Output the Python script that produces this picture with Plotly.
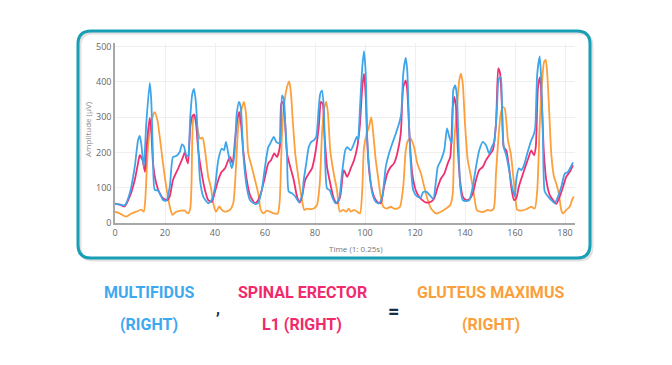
import plotly.graph_objects as go

# ---------------- data ----------------
mf_t = [0, 2, 3.9, 5.9, 7.9, 9.2, 9.9, 10.5, 11.5, 12.5, 13.9, 14.5, 15.2, 15.9, 17.2, 18.5, 19.2, 20.5, 21.9, 23.2,
        24.5, 25.9, 26.8, 27.6, 28.5, 29.2, 30.1, 30.9, 31.6, 32.4, 33.3, 34, 35.3, 37.3, 38.7, 40, 41.3, 42.7, 43.6,
        44.4, 45.3, 46.7, 47.7, 48.7, 49.6, 50.3, 51.3, 52.7, 54, 56, 57.3, 58.7, 60, 61.3, 62.1, 63.5, 64.5, 65.9,
        66.8, 67.5, 68.1, 68.8, 69.5, 70.8, 72.1, 73.5, 74.8, 75.5, 76.5, 77.5, 78.5, 79.5, 80.5, 81.5, 82.1, 82.8,
        83.5, 84.1, 84.8, 85.9, 86.8, 88.1, 89.5, 90.8, 92.1, 92.9, 94.3, 95.6, 96.7, 97.2, 98, 98.9, 99.6, 100.3,
        100.9, 101.9, 102.9, 104.3, 105.6, 106.9, 108.3, 109.6, 110.9, 112.3, 113.6, 114.5, 115.3, 116.3, 116.9,
        117.6, 118.3, 119.3, 120.9, 122.3, 123.3, 124.7, 126, 127.3, 128.4, 129.1, 130.4, 131.7, 132.8, 133.7, 134.7,
        135.3, 136.1, 136.8, 137.3, 138.1, 139.1, 140.4, 141.7, 143.1, 144.4, 145.7, 147.1, 148.4, 149.7, 150.7,
        151.7, 152.8, 153.5, 154.3, 154.8, 155.5, 156.5, 157.9, 158.8, 159.9, 160.5, 161.5, 162.5, 163.6, 164.9,
        166.3, 167.6, 168.1, 168.9, 169.9, 170.5, 171.2, 171.9, 173.2, 174.5, 175.9, 177.2, 178.5, 179.9, 181.2,
        182.3, 183.2]
mf_v = [54, 52, 50, 84, 159, 234, 247, 225, 159, 281, 397, 348, 187, 94, 92, 75, 65, 63, 102, 187,
        190, 201, 223, 217, 192, 190, 300, 365, 380, 338, 215, 122, 75, 56, 65, 102, 178, 211, 206,
        230, 197, 155, 187, 310, 343, 328, 197, 102, 65, 54, 57, 93, 159, 215, 225, 244, 230, 225,
        361, 352, 281, 197, 89, 84, 75, 60, 75, 122, 169, 215, 230, 234, 244, 328, 366, 375,
        328, 169, 98, 93, 75, 56, 65, 140, 206, 215, 206, 225, 244, 234, 328, 441, 487, 423,
        234, 140, 84, 60, 56, 75, 159, 197, 225, 253, 281, 310, 423, 468, 432,
        281, 169, 93, 75, 72, 88, 88, 78, 68, 120, 159, 178, 206, 268, 244, 225,
        376, 390, 357, 253, 102, 65, 62, 65, 102, 159, 206, 230, 220, 197, 215,
        230, 328, 408, 413, 328, 215, 192, 140, 102, 75, 122, 155, 150, 164, 197,
        230, 253, 272, 423, 472, 404, 234, 89, 75, 65, 56, 75, 102, 140, 145,
        159, 172]

se_t = [0, 2, 3.9, 5.9, 7.9, 9.2, 9.9, 11, 12, 12.5, 13.9, 14.5, 15.2, 16.5, 17.9, 19.2, 21, 21.9, 23.2, 25.3,
        27.2, 27.9, 28.5, 29.2, 30.1, 30.9, 31.6, 32.4, 33.3, 34.7, 36, 37.3, 38.7, 40, 41.3, 42.7, 44, 45.3, 46,
        47, 48, 48.9, 49.7, 50.4, 51.3, 52.7, 54, 56, 57.3, 58.7, 60, 61.3, 62.4, 63.7, 64.8, 65.9, 66.5, 67.1,
        67.9, 68.8, 70.1, 71.5, 72.8, 73.9, 74.8, 76.1, 77.5, 78.8, 80.1, 81.5, 82.4, 83.1, 83.7, 84.8, 86.1,
        87.5, 88.8, 90.1, 91.5, 92.9, 94.3, 95.6, 96.9, 98, 98.9, 99.6, 100.3, 101.2, 102.3, 103.6, 104.9, 106.3,
        107.6, 108.9, 110.3, 111.6, 112.9, 114.3, 115.3, 116.3, 116.9, 117.9, 118.9, 120.3, 121.6, 122.9, 124.4,
        126.4, 127.7, 129.1, 130.4, 131.7, 133.1, 134.1, 135.1, 135.7, 136.4, 137.1, 138, 139.1, 140.4, 141.7,
        143.1, 144.4, 145.7, 147.1, 148.4, 149.7, 151.1, 152.4, 153.3, 154, 154.8, 155.5, 156.5, 157.6, 158.5,
        159.6, 160.5, 161.5, 162.8, 164.1, 165.5, 166.5, 167.6, 168.3, 169.2, 170, 170.7, 171.5, 172.5, 173.9,
        175.2, 176.5, 177.9, 179.2, 180.5, 181.9, 183.2]
se_v = [55, 52, 47, 75, 122, 169, 192, 178, 145, 206, 298, 262, 169, 112, 84, 70, 65, 75, 122, 155,
        187, 201, 183, 169, 272, 302, 308, 282, 206, 140, 93, 65, 60, 89, 122, 145, 155, 178, 187,
        169, 234, 291, 315, 282, 206, 122, 79, 56, 65, 93, 131, 169, 178, 197, 187, 215, 338, 343,
        300, 197, 159, 122, 75, 58, 75, 122, 140, 155, 197, 272, 343, 338, 262, 159, 112,
        70, 56, 75, 150, 131, 155, 178, 215, 281, 385, 423, 357, 187, 112, 75, 60, 56,
        102, 140, 159, 169, 197, 253, 385, 404, 376, 234, 140, 93, 75, 65, 58,
        60, 70, 102, 126, 140, 169, 187, 328, 357, 328, 215, 122, 75, 65, 67,
        84, 122, 150, 159, 178, 192, 206, 281, 438, 425, 328, 215, 206, 159, 102,
        65, 70, 102, 131, 159, 187, 206, 192, 215, 385, 413, 347, 206, 122, 79,
        65, 54, 75, 102, 131, 145, 164]

gm_t = [0, 1.9, 4.5, 6.5, 8.5, 10.5, 11.5, 12.1, 13.2, 14.5, 15.9, 17, 17.9, 19.2, 20.5, 21.9, 23, 24.5, 26.5,
        27.9, 29.2, 30.1, 30.6, 31.3, 32, 32.9, 34, 35, 36, 37.3, 38.3, 39.3, 40.4, 41.7, 42.7, 44, 46, 47.3,
        48.4, 49.3, 50.7, 51.6, 52.4, 53.3, 54.7, 56, 57.3, 58.3, 59.3, 60.7, 62, 63.5, 65.1, 65.9, 66.8, 67.7,
        68.8, 69.7, 70.4, 71.1, 72.1, 73.5, 74.8, 75.7, 76.8, 78.1, 79.5, 80.8, 81.9, 82.8, 83.7, 84.5, 85.2,
        86.1, 87.5, 88.8, 89.9, 91.2, 92.5, 93.5, 94.3, 95.6, 96.9, 98, 98.9, 99.6, 100.7, 101.6, 102.5, 103.3,
        104.3, 105.2, 106.3, 107.3, 108.7, 110.3, 111.6, 112.9, 114, 115.3, 116.3, 117.2, 118.3, 119.6, 120.9,
        122.4, 123.7, 125.1, 126.4, 128.4, 130.4, 132.4, 134.1, 135.1, 135.7, 136.8, 137.7, 138.4, 139.1, 140,
        141.1, 142.4, 143.7, 144.7, 146, 147.7, 149.1, 150.4, 151.5, 152.4, 153.3, 154.3, 155.2, 155.9, 156.5,
        157.2, 158.3, 159.2, 160.1, 160.9, 162.5, 164.5, 166.5, 167.9, 168.9, 169.9, 170.8, 171.6, 172.3, 172.9,
        173.6, 174.5, 175.6, 176.5, 177.5, 178.5, 179.2, 180.5, 181.9, 182.8, 183.5]
gm_v = [32, 27, 18, 27, 32, 38, 32, 65, 216, 290, 314, 290, 244, 169, 103, 47, 23, 32, 35,
        35, 27, 41, 110, 295, 305, 272, 239, 242, 206, 131, 103, 56, 32, 47, 37, 32, 37, 56,
        159, 272, 324, 343, 310, 197, 159, 122, 84, 37, 27, 35, 32, 27, 27, 65, 253, 338,
        385, 401, 366, 291, 197, 122, 65, 37, 41, 39, 41, 51, 112, 253, 324, 343, 310,
        206, 140, 93, 32, 37, 32, 41, 32, 37, 32, 27, 93, 215, 253, 272, 300, 253,
        178, 131, 75, 46, 41, 46, 41, 41, 46, 103, 206, 234, 239, 215, 169,
        140, 102, 65, 41, 27, 32, 41, 51, 84, 234, 328, 404, 423, 395, 281,
        178, 131, 75, 37, 32, 32, 37, 35, 41, 140, 234, 310, 328, 324, 291,
        234, 197, 140, 75, 37, 35, 39, 46, 41, 93, 281, 395, 456, 462, 423,
        328, 197, 131, 112, 84, 37, 27, 37, 46, 65, 75]

series_names = ["Multifidus (Right)", "Spinal Erector L1 (Right)", "Gluteus Maximus (Right)"]
series_colors = ["#3ea5ea", "#ef2f6f", "#fd9f3b"]
x_ticks = [0, 20, 40, 60, 80, 100, 120, 140, 160, 180]
y_ticks = [0, 100, 200, 300, 400, 500]

# ---------------- geometry (page pixels; page body has an 8px margin) ----------------
PAGE_W, PAGE_H = 672, 365
OFF = 8
W, H = PAGE_W - OFF, PAGE_H - OFF
L, R, T, B = 115, 575, 43, 223  # plot area in page pixels


def px(X):
    return (X - L) / (R - L)


def py(Y):
    return (B - Y) / (B - T)


fig = go.Figure()
for t, v, name, col in [(gm_t, gm_v, series_names[2], series_colors[2]),
                        (se_t, se_v, series_names[1], series_colors[1]),
                        (mf_t, mf_v, series_names[0], series_colors[0])]:
    fig.add_trace(go.Scatter(x=t, y=v, mode="lines", name=name,
                             line=dict(color=col, width=1.8, shape="spline", smoothing=0.6)))


def rounded_path(x0, y0, x1, y1, r):
    rx = r / (R - L)
    ry = r / (B - T)
    a, b = px(x0), px(x1)
    top, bot = py(y0), py(y1)
    return (f"M {a+rx},{top} L {b-rx},{top} Q {b},{top} {b},{top-ry} "
            f"L {b},{bot+ry} Q {b},{bot} {b-rx},{bot} L {a+rx},{bot} "
            f"Q {a},{bot} {a},{bot+ry} L {a},{top-ry} Q {a},{top} {a+rx},{top} Z")


shapes = [
    dict(type="path", xref="paper", yref="paper", path=rounded_path(80, 33, 592, 260, 13),
         line=dict(color="rgba(120,120,120,0.22)", width=3), layer="below"),
    dict(type="path", xref="paper", yref="paper", path=rounded_path(78, 31, 590, 258, 13),
         line=dict(color="#189fb6", width=3), fillcolor="rgba(0,0,0,0)", layer="above"),
]

title_font = "Roboto, Arial, sans-serif"
TS = 16


def ann(text, X, Y, color, size=TS, family=title_font, **kw):
    return dict(text=text, x=px(X), y=py(Y), xref="paper", yref="paper", showarrow=False,
                xanchor="center", yanchor="middle",
                font=dict(family=family, size=size, color=color), **kw)


annots = [
    ann("Amplitude (μV)", 87, 129, "#8a8a8a", size=8, family="Open Sans", textangle=-90),
    ann("Time (1: 0.25s)", 356, 248, "#777777", size=8, family="Open Sans"),
    ann("<b>MULTIFIDUS</b>", 149, 292, "#3fa9f0"),
    ann("<b>(RIGHT)</b>", 149, 324, "#3fa9f0"),
    ann("<b>,</b>", 218, 308, "#1b2a48"),
    ann("<b>SPINAL ERECTOR</b>", 302, 292, "#f02a6c"),
    ann("<b>L1 (RIGHT)</b>", 302, 324, "#f02a6c"),
    ann("<b>=</b>", 393, 311, "#1b2a48", size=20),
    ann("<b>GLUTEUS MAXIMUS</b>", 490, 292, "#fa9f3c"),
    ann("<b>(RIGHT)</b>", 491, 324, "#fa9f3c"),
]

fig.update_layout(
    width=W, height=H,
    margin=dict(l=L - OFF, r=PAGE_W - R, t=T - OFF, b=PAGE_H - B, pad=0),
    paper_bgcolor="white", plot_bgcolor="white",
    showlegend=False,
    shapes=shapes,
    annotations=annots,
    xaxis=dict(range=[0, 184], tickvals=x_ticks, ticktext=[str(v) for v in x_ticks],
               showgrid=True, gridcolor="#efefef", gridwidth=1, zeroline=False,
               showline=True, linecolor="#a8a8a8", linewidth=1.5, ticks="",
               tickfont=dict(family="Open Sans", size=9, color="#666666")),
    yaxis=dict(range=[0, 510], tickvals=y_ticks, ticktext=[str(v) for v in y_ticks],
               showgrid=True, gridcolor="#efefef", gridwidth=1, zeroline=False,
               showline=True, linecolor="#a8a8a8", linewidth=1.5, ticks="",
               tickfont=dict(family="Open Sans", size=9, color="#666666")),
)

fig.write_html("out.html")
